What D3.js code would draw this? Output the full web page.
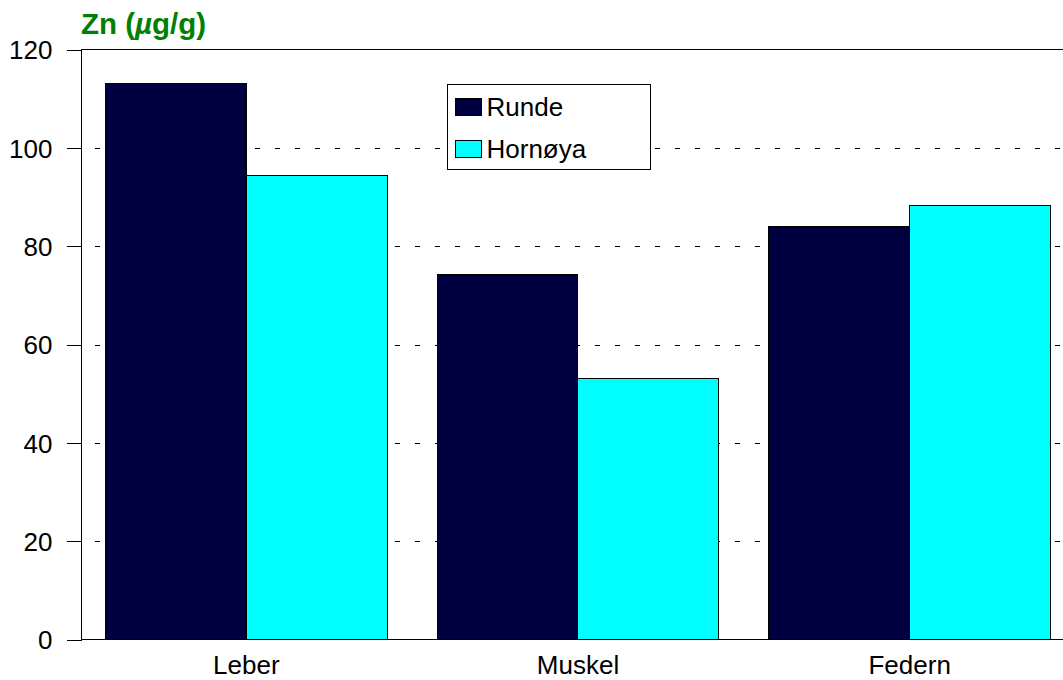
<!DOCTYPE html>
<html>
<head>
<meta charset="utf-8">
<script src="https://cdn.jsdelivr.net/npm/d3@7"></script>
<style>
  html, body { margin: 0; padding: 0; background: #fff; }
  svg { display: block; }
  text { font-family: "Liberation Sans", Arial, Helvetica, sans-serif; }
</style>
</head>
<body>
<svg id="chart" width="1063" height="680"></svg>
<script>
const categories = ["Leber", "Muskel", "Federn"];
const seriesNames = ["Runde", "Hornøya"];
const runde = [113, 74.2, 84.0];
const hornoya = [94.4, 53.1, 88.3];
const yTicks = [0, 20, 40, 60, 80, 100, 120];
const gridTicks = [20, 40, 60, 80, 100];
const titleParts = ["Zn (", "\u00b5", "g/g)"];

const colors = ["#000040", "#00ffff"];
const seriesValues = [runde, hornoya];

const svg = d3.select("#chart");
const pL = 80.5, pR = 1075.5, pT = 49.5, pB = 639.5;

const x0 = d3.scaleBand().domain(categories).range([pL, pR])
  .paddingInner(0.15).paddingOuter(0.075);
const x1 = d3.scaleBand().domain(seriesNames).range([0, x0.bandwidth()]);
const y = d3.scaleLinear().domain([0, 120]).range([pB, pT]);

// gridlines
svg.append("g").selectAll("line").data(gridTicks).join("line")
  .attr("x1", pL).attr("x2", pR)
  .attr("y1", d => Math.round(y(d)) + 0.5).attr("y2", d => Math.round(y(d)) + 0.5)
  .attr("stroke", "#000").attr("stroke-width", 1)
  .attr("stroke-dasharray", "5,15").attr("stroke-dashoffset", 5.8)
  .attr("shape-rendering", "crispEdges");

// top border
svg.append("line").attr("x1", pL).attr("x2", pR).attr("y1", pT).attr("y2", pT)
  .attr("stroke", "#000").attr("shape-rendering", "crispEdges");

// bars
const rows = categories.map((c, i) => ({ cat: c, vals: seriesNames.map((s, j) => ({ s, j, v: seriesValues[j][i] })) }));
svg.append("g").selectAll("g").data(rows).join("g")
  .attr("transform", d => `translate(${x0(d.cat)},0)`)
  .selectAll("rect").data(d => d.vals).join("rect")
  .attr("x", d => x1(d.s))
  .attr("y", d => y(d.v))
  .attr("width", x1.bandwidth())
  .attr("height", d => y(0) - y(d.v))
  .attr("fill", d => colors[d.j])
  .attr("stroke", "#000").attr("stroke-width", 1)
  .attr("shape-rendering", "crispEdges");

// y axis
const yAxis = d3.axisLeft(y).tickValues(yTicks).tickSize(14).tickPadding(14).tickFormat(d3.format("d"));
const gy = svg.append("g").attr("transform", `translate(${pL},0)`).call(yAxis);
gy.select(".domain").attr("shape-rendering", "crispEdges");
gy.selectAll(".tick line").attr("shape-rendering", "crispEdges");
gy.selectAll("text").attr("font-size", 26).attr("font-family", "Liberation Sans, Arial, sans-serif")
  .attr("fill", "#000").attr("dy", "0.36em");

// x axis (baseline + labels)
const xAxis = d3.axisBottom(x0).tickSize(0).tickPadding(16);
const gx = svg.append("g").attr("transform", `translate(0,${pB})`).call(xAxis);
gx.select(".domain").attr("d", `M${pL},0H${pR}`).attr("shape-rendering", "crispEdges");
gx.selectAll("text").attr("font-size", 26).attr("font-family", "Liberation Sans, Arial, sans-serif")
  .attr("fill", "#000").attr("dy", "0.71em");

// title
const title = svg.append("text").attr("x", 81).attr("y", 34)
  .attr("font-size", 29.5).attr("font-weight", "bold").attr("fill", "#008000");
title.selectAll("tspan").data(titleParts).join("tspan")
  .attr("font-style", (d, i) => i === 1 ? "italic" : "normal")
  .text(d => d);

// legend
const lg = svg.append("g").attr("transform", "translate(447.5,84.5)");
lg.append("rect").attr("width", 203).attr("height", 85)
  .attr("fill", "#fff").attr("stroke", "#000").attr("shape-rendering", "crispEdges");
const items = lg.selectAll("g.item").data(seriesNames).join("g").attr("class", "item")
  .attr("transform", (d, i) => `translate(8,${14 + i * 41.5})`);
items.append("rect").attr("width", 26).attr("height", 17)
  .attr("fill", (d, i) => colors[i]).attr("stroke", "#000").attr("shape-rendering", "crispEdges");
items.append("text").attr("x", 31).attr("y", 17.5).attr("font-size", 26).attr("fill", "#000")
  .text(d => d);
</script>
</body>
</html>
